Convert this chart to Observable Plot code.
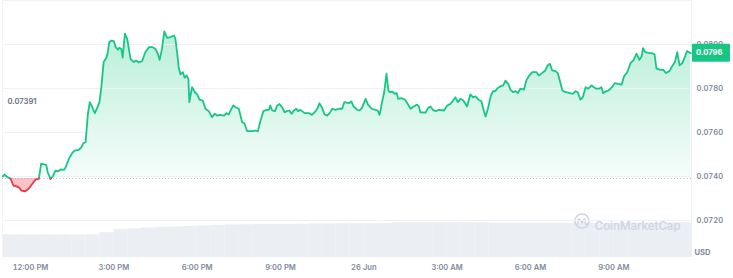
<!DOCTYPE html>
<html><head><meta charset="utf-8">
<script src="https://cdn.jsdelivr.net/npm/d3@7"></script>
<script src="https://cdn.jsdelivr.net/npm/@observablehq/plot@0.6"></script>
<style>
body{margin:0;background:#fff;}
#wrap{position:relative;width:733px;height:278px;overflow:hidden;}
#wrap svg{position:absolute;left:0;top:0;}
</style></head><body><div id="wrap"></div>
<script>
// ---- data: minutes after 25 Jun 12:00 PM, price in USD ----
const minutes = [
-60,-56,-50,-43,-37,-32,-25,-20,-11,-4,4,11,18,23,29,34,37,43,48,54,59,65,72,76,83,90,95,104,110,114,119,124,128,133,139,144,149,153,158,164,167,170,175,180,
184,189,192,196,199,204,209,216,223,228,234,241,248,256,264,270,275,279,284,289,295,302,310,313,317,320,324,329,333,337,341,343,349,355,360,365,372,378,385,392,398,403,410,418,423,428,
438,443,450,457,462,468,479,486,491,497,503,510,515,518,522,528,533,538,544,549,554,559,564,569,574,578,583,592,601,608,616,621,624,630,635,641,646,652,659,666,673,678,
688,693,698,706,711,716,724,729,737,745,750,754,760,764,769,773,776,781,787,791,794,801,809,814,821,828,835,839,842,853,859,864,869,875,882,893,900,907,912,918,923,
929,935,943,950,956,961,968,974,979,983,988,994,999,1004,1009,1015,1021,1026,1032,1037,1043,1048,1053,1058,1066,1071,1076,1084,1093,1098,1105,1112,1117,1122,1127,1134,1139,1149,1156,1163,1172,
1177,1182,1188,1193,1199,1205,1212,1217,1222,1228,1233,1237,1244,1249,1256,1262,1269,1277,1282,1289,1296,1303,1309,1315,1320,1323,1328,1335,1343,1348,1352,1361,1366,1373,1380,1387,1392,1397,1402,1408,1413,1418,1426
];
const prices = [
0.07400,0.07408,0.07397,0.07390,0.07359,0.07356,0.07351,0.07336,0.07333,0.07344,0.07367,0.07386,0.07390,0.07458,0.07455,0.07453,0.07420,0.07389,0.07400,0.07427,0.07423,0.07432,0.07430,0.07442,0.07480,0.07506,0.07518,0.07521,0.07533,0.07551,0.07556,0.07685,0.07738,0.07718,0.07688,0.07712,0.07738,0.07806,0.07920,0.07940,0.07965,0.08010,0.08018,0.08015,
0.07988,0.07976,0.07985,0.07980,0.07940,0.08049,0.08026,0.07935,0.07920,0.07927,0.07918,0.07924,0.07965,0.07988,0.07988,0.07980,0.07958,0.07930,0.07980,0.08060,0.08030,0.08033,0.08041,0.08026,0.07958,0.07897,0.07864,0.07874,0.07849,0.07859,0.07844,0.07738,0.07806,0.07783,0.07773,0.07749,0.07745,0.07708,0.07697,0.07670,0.07685,0.07677,0.07680,0.07677,0.07688,0.07682,
0.07723,0.07715,0.07708,0.07647,0.07642,0.07606,0.07606,0.07609,0.07605,0.07655,0.07697,0.07703,0.07703,0.07723,0.07700,0.07697,0.07723,0.07730,0.07712,0.07692,0.07697,0.07700,0.07685,0.07700,0.07708,0.07697,0.07703,0.07688,0.07688,0.07680,0.07697,0.07715,0.07733,0.07712,0.07682,0.07677,0.07688,0.07708,0.07703,0.07708,0.07708,0.07738,
0.07733,0.07741,0.07718,0.07703,0.07700,0.07712,0.07753,0.07727,0.07708,0.07703,0.07700,0.07680,0.07745,0.07783,0.07867,0.07791,0.07783,0.07786,0.07776,0.07779,0.07753,0.07756,0.07749,0.07733,0.07708,0.07718,0.07727,0.07718,0.07692,0.07690,0.07712,0.07718,0.07703,0.07697,0.07703,0.07700,0.07723,0.07730,0.07742,0.07760,0.07738,
0.07753,0.07745,0.07718,0.07773,0.07760,0.07764,0.07749,0.07742,0.07700,0.07673,0.07708,0.07764,0.07788,0.07788,0.07801,0.07810,0.07814,0.07836,0.07821,0.07794,0.07783,0.07788,0.07779,0.07799,0.07795,0.07836,0.07855,0.07874,0.07874,0.07859,0.07870,0.07882,0.07905,0.07912,0.07882,0.07879,0.07870,0.07791,0.07783,0.07780,0.07776,
0.07788,0.07783,0.07749,0.07760,0.07806,0.07799,0.07814,0.07806,0.07799,0.07799,0.07806,0.07779,0.07788,0.07791,0.07806,0.07824,0.07821,0.07818,0.07855,0.07874,0.07915,0.07930,0.07958,0.07930,0.07945,0.07983,0.07965,0.07962,0.07960,0.07955,0.07890,0.07885,0.07886,0.07870,0.07879,0.07905,0.07920,0.07965,0.07905,0.07915,0.07940,0.07970,0.07960
];
const volumeMinutes = [-60,-30,0,30,60,90,120,150,180,210,240,270,300,330,360,390,420,450,480,510,540,570,600,630,660,690,720,750,780,810,840,870,900,930,960,990,1020,1050,1080,1110,1140,1170,1200,1230,1260,1290,1320,1350,1380,1410];
const volumeM = [22.7,22.7,22.7,22.7,22.6,22.6,22.8,24.8,28.0,28.7,29.5,30.0,30.4,31.0,31.6,32.2,32.5,32.7,32.9,33.0,33.0,33.2,33.6,33.7,33.8,33.8,33.9,34.0,34.6,34.7,34.7,34.8,34.8,34.7,34.6,34.5,34.4,34.4,34.3,34.3,34.3,34.3,34.3,34.3,34.4,34.5,34.6,34.7,34.7,34.7];
const xTicks = [0,180,360,540,720,900,1080,1260];
const xTickLabels = ["12:00 PM","3:00 PM","6:00 PM","9:00 PM","26 Jun","3:00 AM","6:00 AM","9:00 AM"];
const yTicks = [0.0720,0.0740,0.0760,0.0780,0.0800];
const gridValues = [0.0720,0.0740,0.0760,0.0780,0.0800,0.0820];
const basePrice = 0.07391;
const baseLabel = "0.07391";
const lastPrice = 0.0796;
const lastLabel = "0.0796";
const currency = "USD";
const watermark = "CoinMarketCap";
const timeDomain = [-60.5, 1427.8];
const priceDomain = [0.070318, 0.0820];
const volumeDomain = [0, 37];

const GREEN = "#16c784", RED = "#ea3943";
const W = 733, H = 278;
const FS = 7.6;
const margins = {marginLeft: 2, marginRight: 42, marginTop: 0, marginBottom: 21};
const ns = "http://www.w3.org/2000/svg";
function el(tag, attrs) { const e = document.createElementNS(ns, tag); for (const k in attrs) e.setAttribute(k, attrs[k]); return e; }

// build series with crossing points so up/down parts can be coloured separately
const series = minutes.map((m, i) => ({m, p: prices[i]}));
const aug = [];
series.forEach((a, i) => {
  aug.push(a);
  const b = series[i + 1];
  if (b && (a.p - basePrice) * (b.p - basePrice) < 0) {
    const t = (basePrice - a.p) / (b.p - a.p);
    aug.push({m: a.m + t * (b.m - a.m), p: basePrice, cross: true});
  }
});
const segRows = [];
let seg = 0, side = aug[0].p >= basePrice ? "up" : "down";
for (const d of aug) {
  if (d.cross) {
    segRows.push({...d, seg, side});
    seg++; side = side === "up" ? "down" : "up";
    segRows.push({...d, seg, side});
  } else segRows.push({...d, seg, side});
}
const volRows = volumeMinutes.map((m, i) => ({m1: m, m2: Math.min(m + 30, timeDomain[1]), v: volumeM[i]}));

// ---- volume plot (underneath) ----
const volPlot = Plot.plot({
  width: W, height: H, marginLeft: 2, marginRight: 42, marginTop: 220, marginBottom: 21,
  style: {background: "none", fontFamily: "Inter, sans-serif"},
  x: {domain: timeDomain, axis: null},
  y: {domain: volumeDomain, axis: null},
  marks: [
    Plot.rectY(volRows, {x1: "m1", x2: "m2", y: "v", fill: "#ebeef2"}),
    (index, scales, values, dims) => {
      const cx = dims.width - dims.marginRight - 109, cy = dims.marginTop + 1;
      const g = el("g", {transform: `translate(${cx},${cy})`, fill: "none", stroke: "#cfd5e1", "stroke-width": 1.5, "stroke-linecap": "round", "stroke-linejoin": "round"});
      g.appendChild(el("circle", {r: 7}));
      g.appendChild(el("path", {d: "M-4,3.2 L-4,-0.5 Q-3.6,-3 -2,-1 L0,1.8 L1.6,-1.4 Q2.6,-3 3.2,-0.8 L3.5,2.5 Q4,4.2 5.6,3.2"}));
      return g;
    },
    Plot.text([watermark], {frameAnchor: "top-right", dx: -11, dy: 1, textAnchor: "end", fill: "#cfd5e1", fontSize: 11.5, fontWeight: 500})
  ]
});

// ---- price plot ----
let tagGroup = null;
const pricePlot = Plot.plot({
  width: W, height: H, ...margins,
  style: {background: "none", fontFamily: "Inter, sans-serif", fontSize: FS + "px", color: "#808a9d", fontWeight: 600},
  x: {domain: timeDomain, ticks: xTicks, tickFormat: d => xTickLabels[xTicks.indexOf(d)], tickSize: 0, tickPadding: 7, label: null},
  y: {domain: priceDomain, axis: "right", ticks: yTicks, tickFormat: d => d.toFixed(4), tickSize: 0, tickPadding: 5, label: null},
  marks: [
    (index, scales) => {
      const defs = el("defs", {});
      const lg = el("linearGradient", {id: "upFill", gradientUnits: "userSpaceOnUse", x1: 0, x2: 0, y1: scales.y(d3.max(prices)), y2: scales.y(basePrice)});
      lg.appendChild(el("stop", {offset: "0", "stop-color": GREEN, "stop-opacity": 0.3}));
      lg.appendChild(el("stop", {offset: "1", "stop-color": GREEN, "stop-opacity": 0.04}));
      defs.appendChild(lg);
      return defs;
    },
    Plot.areaY(aug, {x: "m", y1: () => basePrice, y2: d => Math.max(d.p, basePrice), fill: "url(#upFill)"}),
    Plot.areaY(aug, {x: "m", y1: () => basePrice, y2: d => Math.min(d.p, basePrice), fill: RED, fillOpacity: 0.3}),
    Plot.ruleY(gridValues, {stroke: "#eff2f5", strokeWidth: 1}),
    Plot.ruleX([timeDomain[0]], {stroke: "#f1f3f6", y1: priceDomain[0], y2: priceDomain[1]}),
    Plot.ruleX([timeDomain[1]], {stroke: "#eceff3", y1: priceDomain[0], y2: priceDomain[1]}),
    Plot.ruleY([basePrice], {stroke: "#a9b1bf", strokeDasharray: "1,2.2", strokeWidth: 1}),
    Plot.line(segRows.filter(d => d.side === "up"), {x: "m", y: "p", z: "seg", stroke: GREEN, strokeWidth: 1.8}),
    Plot.line(segRows.filter(d => d.side === "down"), {x: "m", y: "p", z: "seg", stroke: RED, strokeWidth: 1.8}),
    Plot.text([baseLabel], {frameAnchor: "top-left", dx: 5, dy: 98, textAnchor: "start", fill: "#616e85", fontSize: FS, fontWeight: 600}),
    Plot.text([currency], {frameAnchor: "bottom-right", dx: 19, dy: -3, fill: "#808a9d", fontSize: FS, fontWeight: 700}),
    (index, scales, values, dims) => {
      const y = scales.y(lastPrice);
      const x = dims.width - dims.marginRight + 1;
      const g = el("g", {"font-family": "Inter, sans-serif"});
      g.appendChild(el("rect", {x, y: y - 9, width: 38, height: 18, fill: GREEN, rx: 1}));
      const t = el("text", {x: x + 4, y, dy: "0.35em", fill: "#fff", "font-size": FS, "font-weight": 700, "text-anchor": "start"});
      t.textContent = lastLabel;
      g.appendChild(t);
      tagGroup = g;
      return el("g", {});
    }
  ]
});
if (tagGroup) pricePlot.appendChild(tagGroup); // keep the price tag above the axis labels

const wrap = document.getElementById("wrap");
wrap.appendChild(volPlot);
wrap.appendChild(pricePlot);
</script>
</body></html>
